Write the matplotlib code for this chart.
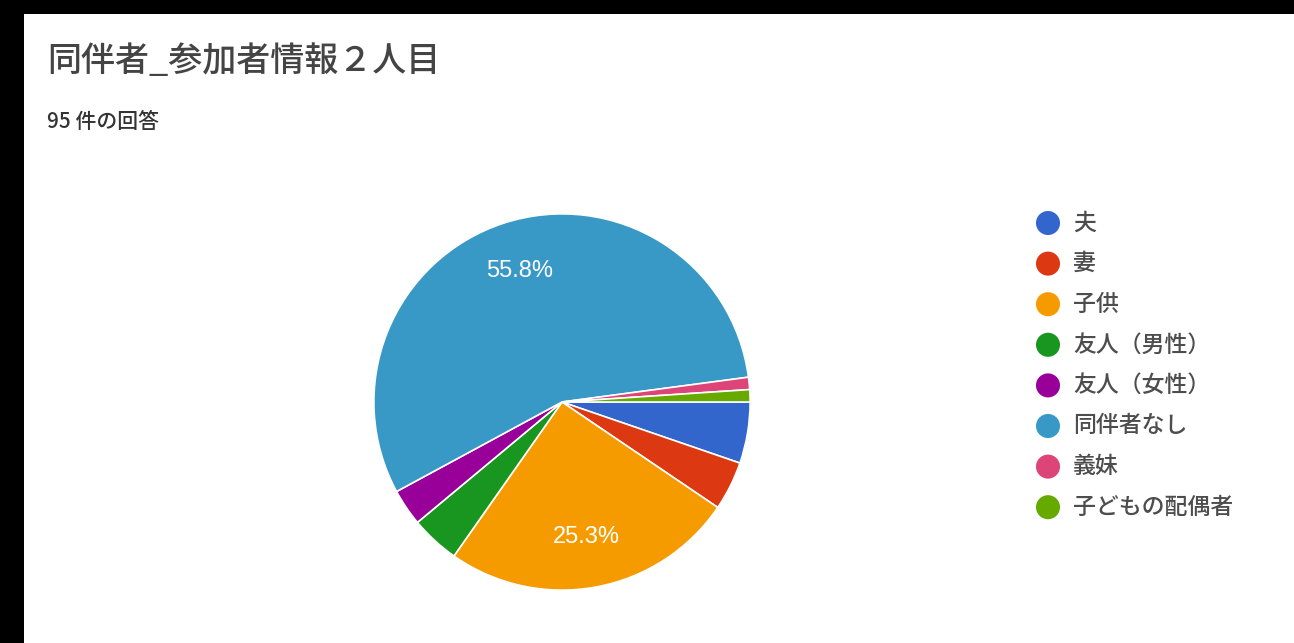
import matplotlib.pyplot as plt
import matplotlib.patches as mpatches

# --- Survey answers (95 responses) ---
labels = ['夫', '妻', '子供', '友人（男性）', '友人（女性）', '同伴者なし', '義妹', '子どもの配偶者']
counts = [5, 4, 24, 4, 3, 53, 1, 1]
colors = ['#3366cc', '#dc3912', '#f59b00', '#199620', '#990099', '#3899c7', '#dd4477', '#66aa00']
title = '同伴者_参加者情報２人目'
subtitle = '95 件の回答'

JP = ['Noto Sans CJK JP', 'DejaVu Sans']
W, H = 1294, 643

fig = plt.figure(figsize=(W / 100, H / 100), dpi=100)
fig.patch.set_facecolor('white')

# full-figure overlay in pixel coordinates for the frame, titles and legend
ov = fig.add_axes([0, 0, 1, 1])
ov.set_xlim(0, W)
ov.set_ylim(H, 0)
ov.axis('off')
ov.add_patch(mpatches.Rectangle((0, 0), W, 14, color='black', lw=0))
ov.add_patch(mpatches.Rectangle((0, 0), 24, H, color='black', lw=0))

ov.text(47, 61, title, family=JP, fontsize=24.5, color='#444444', weight='medium',
        va='center', ha='left')
ov.text(47, 122, subtitle, family=JP, fontsize=15, color='#333333', weight='medium',
        va='center', ha='left')

# --- Pie ---
cx, cy, r = 562, 402, 190
ax = fig.add_axes([(cx - r) / W, (H - cy - r) / H, 2 * r / W, 2 * r / H])


def pct_label(p):
    return f'{p:.1f}%' if p > 10 else ''


wedges, texts, autotexts = ax.pie(
    counts, colors=colors, startangle=0, counterclock=False,
    autopct=pct_label, pctdistance=0.73, radius=1,
    wedgeprops=dict(edgecolor='white', linewidth=1.2),
    textprops=dict(color='white', fontsize=17, family='Liberation Sans'))
ax.set_xlim(-1.01, 1.01)
ax.set_ylim(-1.01, 1.01)
ax.set_aspect('equal')

# --- Legend ---
leg_x, leg_y0, leg_dy = 1048, 223, 40.6
for i, (lab, col) in enumerate(zip(labels, colors)):
    y = leg_y0 + i * leg_dy
    ov.scatter([leg_x], [y], s=300, color=col, edgecolors='none')
    ov.text(leg_x + 25, y, lab, family=JP, fontsize=16.5, color='#4d4d4d', weight='medium',
            va='center', ha='left')

fig.savefig('out.png', dpi=100, facecolor='white')
